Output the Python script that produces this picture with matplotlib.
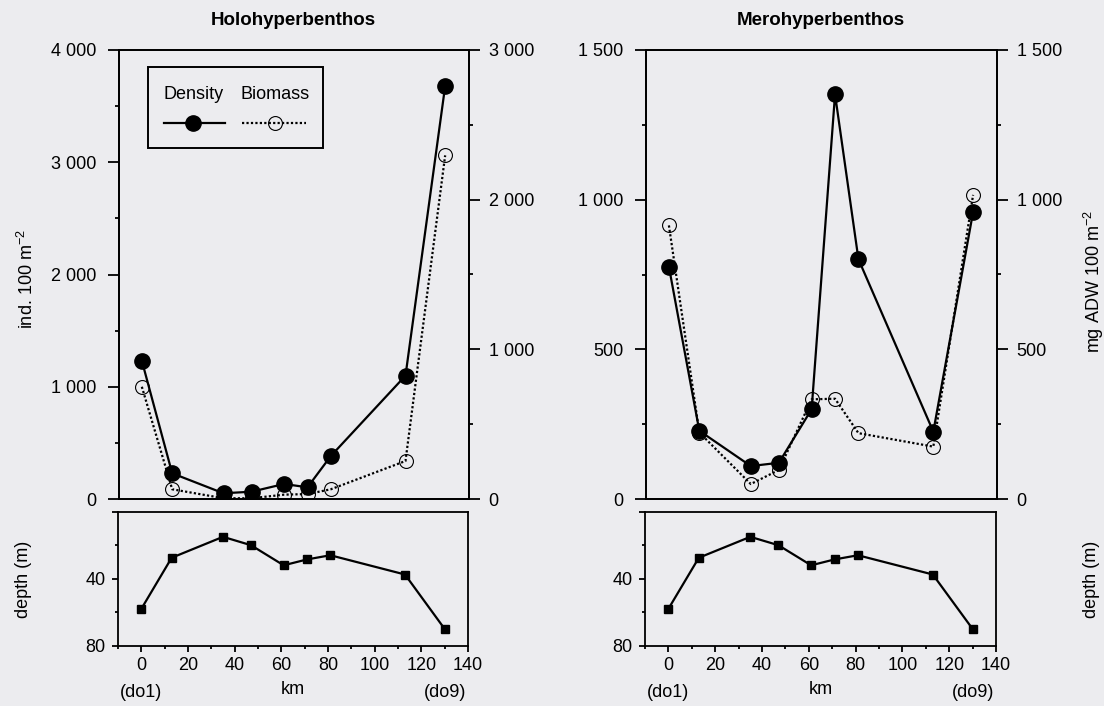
import matplotlib.pyplot as plt
import matplotlib.transforms as mtransforms
from matplotlib.patches import Rectangle
from matplotlib.lines import Line2D
from matplotlib.ticker import FuncFormatter, MultipleLocator, FixedLocator

plt.rcParams['font.family'] = ['Liberation Sans', 'DejaVu Sans']
plt.rcParams['mathtext.default'] = 'regular'

# station positions along the transect (km) and depth (m)
km = [0, 13, 35, 47, 61, 71, 81, 113, 130]
depth = [58, 27.5, 15, 20, 32, 28.5, 26, 37.5, 70]
stations = ['(do1)', '(do9)']

# density (ind. 100 m-2) and biomass (mg ADW 100 m-2)
holo_density = [1232, 229, 51, 65, 134, 104, 383, 1099, 3679]
holo_biomass = [750, 65, 5, 5, 29, 33, 65, 254, 2296]
mero_density = [776, 228, 110, 121, 300, 1352, 801, 225, 959]
mero_biomass = [914, 222, 50, 97, 333, 335, 220, 175, 1016]

bg = '#ececef'
W, H = 1104, 706


def px(x0, y0, w, h):
    # pixel box (top-left origin) -> figure fraction
    return [x0 / W, 1 - (y0 + h) / H, w / W, h / H]


def thousands(v, pos):
    return f"{v:,.0f}".replace(",", " ")


fig = plt.figure(figsize=(11.04, 7.06), dpi=100, facecolor=bg)

panels = [
    dict(x0=118.5, w=350, title='Holohyperbenthos', dens=holo_density, bio=holo_biomass,
         ymax1=4000, ymax2=3000, major=1000, minor=500),
    dict(x0=645.5, w=351, title='Merohyperbenthos', dens=mero_density, bio=mero_biomass,
         ymax1=1500, ymax2=1500, major=500, minor=250),
]

axes_main = []
for i, p in enumerate(panels):
    ax = fig.add_axes(px(p['x0'], 50, p['w'], 449))
    axd = fig.add_axes(px(p['x0'] - 0.5, 511.7, p['w'], 134), sharex=ax)
    ax2 = ax.twinx()
    for a in (ax, axd, ax2):
        a.set_facecolor('none')
        for s in a.spines.values():
            s.set_linewidth(1.3)

    # main panel
    ax.plot(km, p['dens'], color='black', lw=1.6, marker='o', ms=11, zorder=3)
    ax2.plot(km, p['bio'], color='black', lw=1.6, ls=(0, (1, 1)), marker='o', ms=10,
             mfc='none', mec='black', mew=0.8, zorder=3)
    ax.set_xlim(-10, 140)
    ax.set_ylim(0, p['ymax1'])
    ax2.set_ylim(0, p['ymax2'])
    for a, pad in ((ax, 8), (ax2, 6.5)):
        a.yaxis.set_major_locator(MultipleLocator(p['major']))
        a.yaxis.set_minor_locator(MultipleLocator(p['minor']))
        a.yaxis.set_major_formatter(FuncFormatter(thousands))
        a.tick_params(axis='y', which='major', direction='out', length=8, width=1.3,
                      labelsize=13, pad=pad)
        a.tick_params(axis='y', which='minor', direction='out', length=3, width=1.3)
    ax.tick_params(axis='x', which='both', bottom=False, labelbottom=False)
    ax.text(0.5, 1 + 29.5 / 449, p['title'], transform=ax.transAxes, ha='center',
            va='center', fontsize=13.5, fontweight='bold')

    # depth panel
    axd.plot(km, depth, color='black', lw=1.6, marker='s', ms=5.5)
    axd.set_ylim(80, 0)
    axd.yaxis.set_major_locator(FixedLocator([0, 40, 80]))
    axd.yaxis.set_minor_locator(FixedLocator([20, 60]))
    axd.set_yticklabels(['', '40', '80'])
    axd.xaxis.set_major_locator(MultipleLocator(20))
    axd.xaxis.set_minor_locator(MultipleLocator(10))
    axd.tick_params(axis='y', which='major', direction='out', length=4, width=1.3,
                    labelsize=13, pad=5)
    axd.tick_params(axis='x', which='major', direction='out', length=4, width=1.3,
                    labelsize=13, pad=4)
    axd.tick_params(which='minor', direction='out', length=2, width=1.3)
    axd.text(0.5, -0.33, 'km', transform=axd.transAxes, ha='center', va='center', fontsize=13)
    tr = mtransforms.blended_transform_factory(axd.transData, axd.transAxes)
    for lab, xk in zip(stations, [km[0], km[-1]]):
        axd.text(xk, -0.35, lab, transform=tr, ha='center', va='center', fontsize=13)
    axes_main.append((ax, ax2, axd))

# axis labels
fig.text(27 / W, 1 - 279 / H, 'ind. 100 m$^{-2}$', rotation=90, ha='center', va='center',
         fontsize=13)
fig.text(23 / W, 1 - 579 / H, 'depth (m)', rotation=90, ha='center', va='center', fontsize=13)
fig.text(1094 / W, 1 - 282 / H, 'mg ADW 100 m$^{-2}$', rotation=90, ha='center', va='center',
         fontsize=13)
fig.text(1091 / W, 1 - 579 / H, 'depth (m)', rotation=90, ha='center', va='center', fontsize=13)

# legend box in the left panel
ax = axes_main[0][1]
ax.add_patch(Rectangle((0.0857, 0.781), 0.5, 0.1818, transform=ax.transAxes, fill=False,
                       lw=1.4, ec='black', zorder=5))
ax.text(0.214, 0.90, 'Density', transform=ax.transAxes, ha='center', va='center', fontsize=13)
ax.text(0.446, 0.90, 'Biomass', transform=ax.transAxes, ha='center', va='center', fontsize=13)
ax.add_line(Line2D([0.1286, 0.3029], [0.8368, 0.8368], transform=ax.transAxes, color='black',
                   lw=1.6))
ax.add_line(Line2D([0.214], [0.8368], transform=ax.transAxes, color='black', marker='o', ms=11))
ax.add_line(Line2D([0.354, 0.537], [0.8368, 0.8368], transform=ax.transAxes, color='black',
                   lw=1.6, ls=(0, (1, 1))))
ax.add_line(Line2D([0.446], [0.8368], transform=ax.transAxes, color='black', marker='o', ms=10,
                   mfc='none', mew=0.8))

fig.savefig('out.png', dpi=100, facecolor=bg)
